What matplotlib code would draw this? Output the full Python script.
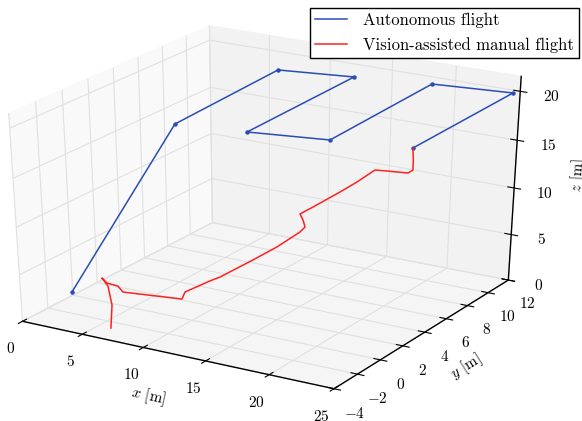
import numpy as np
import matplotlib
matplotlib.use('Agg')
import matplotlib.pyplot as plt

plt.rcParams['font.family'] = ['cmr10', 'DejaVu Serif']
plt.rcParams['mathtext.fontset'] = 'cm'
plt.rcParams['axes.formatter.use_mathtext'] = True
plt.rcParams['axes.unicode_minus'] = True

# Autonomous flight waypoints (x, y, z) in metres
auto_x = [-0.42, 8.85, 8.13, 13.54, 13.88, 19.45, 18.99, 24.76, 24.94]
auto_y = [0.33, 0.11, 9.41, 10.19, 0.71, 1.53, 11.00, 11.61, 2.34]
auto_z = [0.0, 20.0, 20.0, 20.0, 20.0, 20.0, 20.0, 20.0, 20.0]

# Vision-assisted manual flight (x, y, z) in metres
man_x = [6.01, 6.18, 5.91, 5.44, 5.84, 6.73, 7.13, 11.90, 12.16, 13.80, 14.25, 16.50, 18.02,
         19.45, 19.50, 19.01, 18.45, 19.12, 20.83, 21.78, 22.79, 23.38, 24.64, 25.00, 25.00, 24.94]
man_y = [-2.69, -2.69, -2.69, -2.69, -2.69, -2.69, -2.69, -2.69, -2.69, -2.33, -1.97, -1.61, -1.25,
         -0.89, -0.53, -0.17, 0.19, 0.55, 0.90, 1.26, 1.62, 1.98, 2.34, 2.34, 2.34, 2.34]
man_z = [0.00, 2.53, 4.48, 5.21, 4.78, 4.70, 4.17, 4.73, 5.54, 6.88, 7.16, 9.27, 10.75,
         12.39, 12.67, 13.02, 13.25, 13.89, 15.58, 16.58, 17.78, 17.60, 17.48, 17.86, 18.87, 20.0]

x_ticks = [0, 5, 10, 15, 20, 25]
y_ticks = [-4, -2, 0, 2, 4, 6, 8, 10, 12]
z_ticks = [0, 5, 10, 15, 20]

fig = plt.figure(figsize=(5.82, 4.21), dpi=100)
ax = fig.add_axes([-0.0765, 0.042, 1.05, 0.94], projection='3d')
ax.apply_aspect = lambda position=None: None
ax.view_init(elev=29, azim=-59)
ax.set_box_aspect((1, 1, 1), zoom=1.0)

blue = '#2a4db5'
red = '#ff2020'
ax.plot(auto_x, auto_y, auto_z, color=blue, lw=1.1, label='Autonomous flight')
ax.plot(auto_x, auto_y, auto_z, ls='none', marker='o', ms=2.2, color=blue)
ax.plot(man_x, man_y, man_z, color=red, lw=1.1, label='Vision-assisted manual flight')

ax.set_xlim(0, 25)
ax.set_ylim(-4, 12)
ax.set_zlim(0, 21.5)
ax.set_xticks(x_ticks)
ax.set_yticks(y_ticks)
ax.set_zticks(z_ticks)

for axis, c in ((ax.xaxis, 0.975), (ax.yaxis, 0.95), (ax.zaxis, 0.9625)):
    axis.set_pane_color((c, c, c, 1.0))
    axis._axinfo['grid']['color'] = (0.88, 0.88, 0.88, 1)
    axis._axinfo['grid']['linewidth'] = 0.8
    axis._axinfo['tick']['inward_factor'] = 0.25
    axis._axinfo['tick']['outward_factor'] = 0.25
    axis.line.set_color('black')
    axis.line.set_linewidth(1.0)

ax.tick_params(labelsize=11, pad=4)
ax.set_xlabel('$x$ [m]', fontsize=11)
ax.set_ylabel('$y$ [m]', fontsize=11)
ax.set_zlabel('$z$ [m]', fontsize=11)

leg = fig.legend(loc='upper right', bbox_to_anchor=(0.9948, 0.981), fontsize=12,
                 frameon=True, fancybox=False, edgecolor='black', framealpha=1,
                 handlelength=1.9, handletextpad=1.0, borderpad=0.28, labelspacing=0.55,
                 borderaxespad=0.0)
leg.get_frame().set_linewidth(1.0)

fig.savefig('out.png', dpi=100)
